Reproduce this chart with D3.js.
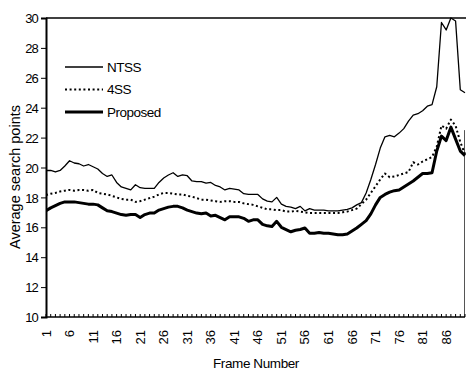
<!DOCTYPE html>
<html>
<head>
<meta charset="utf-8">
<script src="https://cdn.jsdelivr.net/npm/d3@7"></script>
<style>
  body { margin: 0; background: #fff; }
  text { font-family: "Liberation Sans", Arial, sans-serif; fill: #000; }
</style>
</head>
<body>
<div id="chart"></div>
<script>
// frame numbers 1..90
let frames = d3.range(1, 91)

let ntss = [19.8, 19.8, 19.7, 19.8, 20.1, 20.45, 20.3, 20.25, 20.1, 20.2,
    20.05, 19.9, 19.6, 19.4, 19.5, 19.0, 18.7, 18.6, 18.5, 18.85,
    18.65, 18.6, 18.6, 18.6, 19.0, 19.3, 19.5, 19.65, 19.4, 19.5,
    19.45, 19.1, 19.05, 19.05, 18.95, 19.0, 18.8, 18.7, 18.5, 18.6,
    18.55, 18.5, 18.25, 18.2, 18.2, 18.2, 17.9, 17.75, 17.7, 18.0,
    17.55, 17.4, 17.35, 17.25, 17.4, 17.1, 17.25, 17.15, 17.15, 17.15,
    17.1, 17.1, 17.1, 17.15, 17.2, 17.3, 17.5, 17.65, 18.3, 19.2,
    20.2, 21.3, 22.05, 22.15, 22.05, 22.3, 22.6, 23.1, 23.5, 23.6,
    23.8, 24.1, 24.2, 25.4, 29.7, 29.2, 30.0, 29.8, 25.2, 25.0]

let fourSS = [18.15, 18.25, 18.3, 18.4, 18.45, 18.5, 18.45, 18.5, 18.5, 18.45,
    18.5, 18.3, 18.25, 18.2, 18.1, 18.0, 17.9, 17.85, 17.85, 17.7,
    17.75, 17.85, 17.95, 18.05, 18.2, 18.3, 18.3, 18.25, 18.2, 18.2,
    18.1, 18.05, 17.95, 17.85, 17.85, 17.8, 17.75, 17.7, 17.75, 17.75,
    17.7, 17.7, 17.6, 17.55, 17.5, 17.4, 17.3, 17.2, 17.2, 17.15,
    17.15, 17.05, 17.05, 17.1, 17.05, 17.0, 16.95, 16.95, 16.95, 16.95,
    16.95, 16.95, 16.95, 17.0, 17.05, 17.15, 17.25, 17.55, 17.85, 18.3,
    18.75, 19.2, 19.6, 19.35, 19.4, 19.5, 19.6, 19.7, 20.35, 20.2,
    20.4, 20.55, 20.7, 21.4, 22.8, 22.6, 23.2, 22.8, 21.7, 20.9]

let proposed = [17.1, 17.3, 17.45, 17.6, 17.7, 17.7, 17.7, 17.65, 17.6, 17.55,
    17.55, 17.5, 17.3, 17.1, 17.05, 16.95, 16.85, 16.8, 16.85, 16.85,
    16.65, 16.85, 16.95, 16.95, 17.15, 17.25, 17.35, 17.4, 17.4, 17.3,
    17.15, 17.05, 16.95, 16.9, 16.95, 16.75, 16.8, 16.65, 16.5, 16.7,
    16.7, 16.7, 16.6, 16.4, 16.5, 16.5, 16.2, 16.1, 16.05, 16.4,
    16.0, 15.85, 15.7, 15.8, 15.85, 15.95, 15.6, 15.6, 15.65, 15.6,
    15.6, 15.55, 15.5, 15.5, 15.55, 15.75, 15.95, 16.2, 16.45, 16.9,
    17.5, 18.0, 18.2, 18.35, 18.45, 18.5, 18.7, 18.9, 19.1, 19.35,
    19.6, 19.6, 19.65, 21.1, 22.1, 21.8, 22.7, 21.9, 21.1, 20.8]

let seriesNames = ["NTSS", "4SS", "Proposed"]
let yTicks = [10, 12, 14, 16, 18, 20, 22, 24, 26, 28, 30]
let xTickLabels = [1, 6, 11, 16, 21, 26, 31, 36, 41, 46, 51, 56, 61, 66, 71, 76, 81, 86]

function drawChart(){
    let width = 466
    let height = 370
    let margin = {top: 18, right: 1, bottom: 53, left: 46}

    let svg = d3.select("#chart")
        .append("svg")
            .attr("width", width)
            .attr("height", height)

    let x = d3.scaleLinear()
        .domain([1, 90])
        .range([margin.left, width - margin.right])
    let y = d3.scaleLinear()
        .domain([10, 30])
        .range([height - margin.bottom, margin.top])

    svg.append("clipPath").attr("id", "plotClip")
        .append("rect")
            .attr("x", margin.left)
            .attr("y", margin.top - 1)
            .attr("width", width - margin.left)
            .attr("height", height - margin.bottom - margin.top + 1)

    // frame: top line and partial right border
    svg.append("line")
        .attr("x1", margin.left).attr("x2", width)
        .attr("y1", y(30)).attr("y2", y(30))
        .attr("stroke", "#000").attr("stroke-width", 1.5)
    svg.append("line")
        .attr("x1", width - margin.right - 0.5).attr("x2", width - margin.right - 0.5)
        .attr("y1", y(22.5)).attr("y2", y(10))
        .attr("stroke", "#555").attr("stroke-width", 1)

    // y axis
    let yAxis = svg.append("g")
        .attr("transform", "translate(" + margin.left + ",0)")
        .call(d3.axisLeft(y).tickValues(yTicks).tickSize(5).tickPadding(3).tickFormat(d3.format("d")))
    yAxis.select(".domain").attr("stroke-width", 2)
    yAxis.selectAll("text")
        .style("font-size", "13px")
        .attr("letter-spacing", "-0.8")
        .attr("dy", "0.36em")

    // x axis: minor ticks at every frame pointing inwards
    svg.append("line")
        .attr("x1", margin.left).attr("x2", width - margin.right)
        .attr("y1", y(10)).attr("y2", y(10))
        .attr("stroke", "#000").attr("stroke-width", 1.5)
    svg.selectAll(".xTick")
        .data(frames)
        .enter()
        .append("line")
            .attr("class", "xTick")
            .attr("x1", d => x(d)).attr("x2", d => x(d))
            .attr("y1", y(10)).attr("y2", y(10) - 3)
            .attr("stroke", "#000").attr("stroke-width", 1)

    svg.selectAll(".xLabel")
        .data(xTickLabels)
        .enter()
        .append("text")
            .attr("class", "xLabel")
            .attr("transform", d => "translate(" + (x(d) + 4.5) + "," + (y(10) + 13) + ") rotate(-90)")
            .attr("text-anchor", "end")
            .style("font-size", "13px")
            .text(d => d)

    // axis titles
    svg.append("text")
        .attr("x", (margin.left + width) / 2 + 0)
        .attr("y", height - 2)
        .attr("text-anchor", "middle")
        .attr("letter-spacing", "-0.4")
        .style("font-size", "13.5px")
        .text("Frame Number")

    svg.append("text")
        .attr("transform", "translate(20," + 177 + ") rotate(-90)")
        .attr("text-anchor", "middle")
        .style("font-size", "14.5px")
        .text("Average search points")

    // lines
    let line = d3.line()
        .x((d, i) => x(frames[i]))
        .y(d => y(d))

    let styles = [
        {data: ntss, width: 1.3, dash: null},
        {data: fourSS, width: 2, dash: "2,2.6"},
        {data: proposed, width: 3, dash: null}
    ]

    svg.append("g")
        .attr("clip-path", "url(#plotClip)")
        .selectAll(".series")
        .data(styles)
        .enter()
        .append("path")
            .attr("class", "series")
            .attr("fill", "none")
            .attr("stroke", "#000")
            .attr("stroke-width", d => d.width)
            .attr("stroke-dasharray", d => d.dash)
            .attr("stroke-linejoin", "round")
            .attr("d", d => line(d.data))

    // legend
    let legend = svg.selectAll(".legendItem")
        .data(styles)
        .enter()
        .append("g")
            .attr("class", "legendItem")
            .attr("transform", (d, i) => "translate(65," + (67 + i * 22.5) + ")")
    legend.append("line")
        .attr("x1", 0).attr("x2", 38)
        .attr("y1", 0).attr("y2", 0)
        .attr("stroke", "#000")
        .attr("stroke-width", d => d.width)
        .attr("stroke-dasharray", d => d.dash)
    legend.append("text")
        .attr("x", 42)
        .attr("y", 0)
        .attr("dy", "0.36em")
        .attr("letter-spacing", "-0.5")
        .style("font-size", "13.5px")
        .text((d, i) => seriesNames[i])
}
drawChart()
</script>
</body>
</html>
